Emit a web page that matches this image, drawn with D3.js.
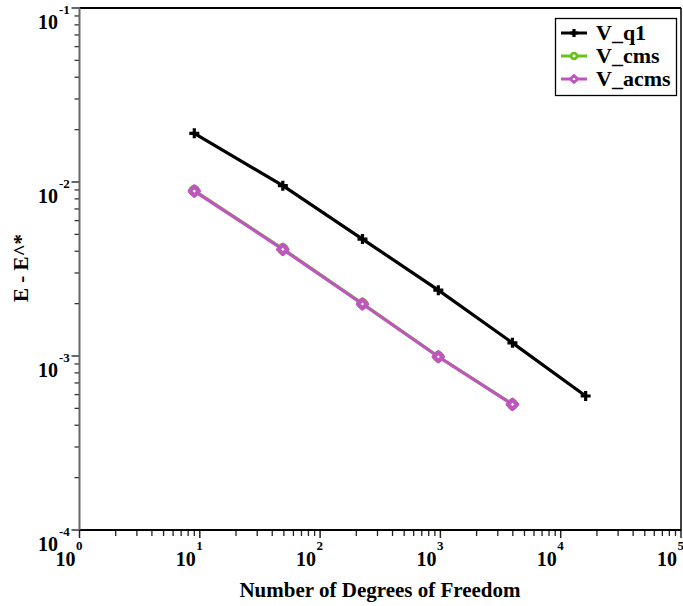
<!DOCTYPE html>
<html>
<head>
<meta charset="utf-8">
<script src="https://cdn.jsdelivr.net/npm/d3@7"></script>
<style>
  html, body { margin: 0; padding: 0; background: #fff; }
  svg { display: block; }
  text { font-family: "Liberation Serif", "Times New Roman", serif; font-weight: bold; fill: #000; }
</style>
</head>
<body>
<svg id="chart" width="683" height="606"></svg>
<script>
// Degrees of freedom on successively refined meshes
const dofs = [9, 49, 225, 961, 3969, 16129];

// Error E - E^* for each method
const errQ1   = [0.01905, 0.00953, 0.00470, 0.00239, 0.00119, 0.000589];
const errCms  = [0.00893, 0.00413, 0.00200, 0.000993, 0.000528];
const errAcms = [0.00887, 0.00410, 0.00199, 0.00099, 0.000527];

const seriesNames = ["V_q1", "V_cms", "V_acms"];
const seriesColors = ["#000000", "#66c418", "#bf55bf"];

const xDecades = [0, 1, 2, 3, 4, 5];
const yDecades = [-4, -3, -2, -1];

(function () {
const svg = d3.select("#chart");
const pLeft = 79.5, pRight = 681, pTop = 8, pBottom = 530;

const x = d3.scaleLog().domain([1, 1e5]).range([pLeft, pRight]);
const y = d3.scaleLog().domain([1e-4, 1e-1]).range([pBottom, pTop]);

// minor tick values (2..9 in every decade)
function minors(lo, hi) {
  const out = [];
  for (let e = lo; e < hi; e++) for (let m = 2; m <= 9; m++) out.push(m * Math.pow(10, e));
  return out;
}

// x axis ticks
const gx = svg.append("g");
gx.selectAll("line.minor").data(minors(0, 5)).join("line").attr("class", "minor")
  .attr("x1", d => x(d)).attr("x2", d => x(d))
  .attr("y1", pBottom).attr("y2", pBottom + 6)
  .attr("stroke", "#222").attr("stroke-width", 1.3);
gx.selectAll("line.major").data(xDecades).join("line").attr("class", "major")
  .attr("x1", d => x(Math.pow(10, d))).attr("x2", d => x(Math.pow(10, d)))
  .attr("y1", pBottom).attr("y2", pBottom + 8)
  .attr("stroke", "#222").attr("stroke-width", 1.5);
const xl = gx.selectAll("g.lab").data(xDecades).join("g").attr("class", "lab");
xl.append("text")
  .attr("x", d => x(Math.pow(10, d)) - 4).attr("y", pBottom + 36)
  .attr("text-anchor", "end").attr("font-size", 20).text("10");
xl.append("text")
  .attr("x", d => x(Math.pow(10, d)) - 3.5).attr("y", pBottom + 20)
  .attr("font-size", 13).text(d => d);

// y axis ticks
const gy = svg.append("g");
gy.selectAll("line.minor").data(minors(-4, -1)).join("line").attr("class", "minor")
  .attr("x1", pLeft - 5).attr("x2", pLeft)
  .attr("y1", d => y(d)).attr("y2", d => y(d))
  .attr("stroke", "#333").attr("stroke-width", 1.3);
gy.selectAll("line.major").data(yDecades).join("line").attr("class", "major")
  .attr("x1", pLeft - 8).attr("x2", pLeft)
  .attr("y1", d => y(Math.pow(10, d))).attr("y2", d => y(Math.pow(10, d)))
  .attr("stroke", "#333").attr("stroke-width", 1.5);
const yl = gy.selectAll("g.lab").data(yDecades).join("g").attr("class", "lab");
yl.append("text")
  .attr("x", 58).attr("y", d => y(Math.pow(10, d)) + 20.5)
  .attr("text-anchor", "end").attr("font-size", 20).text("10");
yl.append("text")
  .attr("x", 59).attr("y", d => y(Math.pow(10, d)) + 6)
  .attr("font-size", 13).text(d => "-" + Math.abs(d));

// frame
svg.append("line").attr("x1", pLeft).attr("x2", pRight).attr("y1", pTop).attr("y2", pTop)
  .attr("stroke", "#000").attr("stroke-width", 2);
svg.append("line").attr("x1", pRight).attr("x2", pRight).attr("y1", pTop).attr("y2", pBottom)
  .attr("stroke", "#000").attr("stroke-width", 1.5);
svg.append("line").attr("x1", pLeft).attr("x2", pRight).attr("y1", pBottom).attr("y2", pBottom)
  .attr("stroke", "#000").attr("stroke-width", 2);
svg.append("line").attr("x1", pLeft).attr("x2", pLeft).attr("y1", pTop).attr("y2", pBottom)
  .attr("stroke", "#666").attr("stroke-width", 2);

// data series
const series = [errQ1, errCms, errAcms].map((vals, i) => ({
  name: seriesNames[i], color: seriesColors[i],
  pts: vals.map((v, j) => [dofs[j], v])
}));

const line = d3.line().x(d => x(d[0])).y(d => y(d[1]));

function marker(g, kind, color, cx, cy, s, sw) {
  if (kind === 0) {
    g.append("path")
      .attr("d", `M${cx - s},${cy}H${cx + s}M${cx},${cy - s}V${cy + s}`)
      .attr("stroke", color).attr("stroke-width", 3.2).attr("fill", "none");
  } else if (kind === 1) {
    g.append("circle").attr("cx", cx).attr("cy", cy).attr("r", s * 0.8)
      .attr("stroke", color).attr("stroke-width", sw).attr("fill", "#fff");
  } else {
    g.append("path")
      .attr("d", `M${cx},${cy - s}L${cx + s},${cy}L${cx},${cy + s}L${cx - s},${cy}Z`)
      .attr("stroke", color).attr("stroke-width", sw).attr("stroke-linejoin", "round")
      .attr("fill", "#fff");
  }
}

series.forEach((s, i) => {
  const g = svg.append("g");
  g.append("path").datum(s.pts).attr("d", line)
    .attr("fill", "none").attr("stroke", s.color).attr("stroke-width", 3.2);
  s.pts.forEach(p => marker(g, i, s.color, x(p[0]), y(p[1]), i === 0 ? 5 : 4.6, 4.2));
});

// legend
const lg = svg.append("g");
lg.append("rect").attr("x", 555.5).attr("y", 18.5).attr("width", 121).attr("height", 77)
  .attr("fill", "#fff").attr("stroke", "#000").attr("stroke-width", 1.3);
series.forEach((s, i) => {
  const cy = 33 + i * 23;
  lg.append("line").attr("x1", 561).attr("x2", 587).attr("y1", cy).attr("y2", cy)
    .attr("stroke", s.color).attr("stroke-width", 3);
  marker(lg, i, s.color, 574, cy, i === 0 ? 4 : 3.6, 2.8);
  lg.append("text").attr("x", 596).attr("y", cy + 7).attr("font-size", 22).text(s.name);
});

// axis titles
svg.append("text").attr("x", 380).attr("y", 597).attr("text-anchor", "middle")
  .attr("font-size", 21).text("Number of Degrees of Freedom");
svg.append("text").attr("transform", "translate(28,268) rotate(-90)")
  .attr("text-anchor", "middle").attr("font-size", 21).text("E - E^*");
})();
</script>
</body>
</html>
